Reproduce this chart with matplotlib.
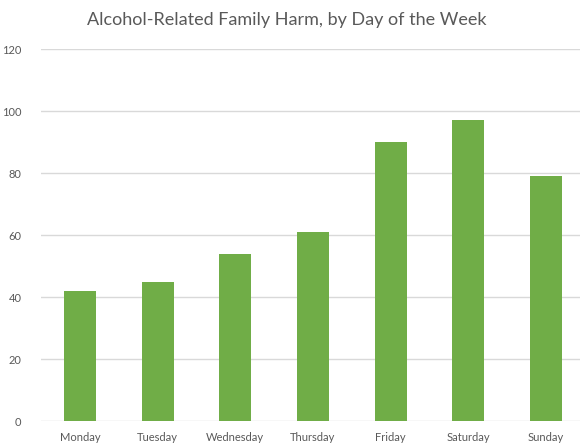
import matplotlib
matplotlib.use("Agg")
from matplotlib import pyplot as plt

# Family harm incidents by day of week
days = ['Monday', 'Tuesday', 'Wednesday', 'Thursday', 'Friday', 'Saturday', 'Sunday']
incidents = [42, 45, 54, 61, 90, 97, 79]
yticks = [0, 20, 40, 60, 80, 100, 120]

plt.rcParams['font.family'] = ['Lato', 'DejaVu Sans']

fig = plt.figure(figsize=(5.8, 4.45), dpi=100)
ax = fig.add_axes([41 / 580, 24 / 445, 544 / 580, 372 / 445])

ax.bar(range(len(days)), incidents, width=0.41, color='#70AD47', zorder=3)

ax.set_xlim(-0.5, len(days) - 0.5)
ax.set_ylim(0, 120)
ax.set_yticks(yticks)
ax.set_xticks(range(len(days)))
ax.set_xticklabels(days)
ax.grid(axis='y', color='#D9D9D9', linewidth=1, zorder=0)
for side in ['top', 'right', 'left', 'bottom']:
    ax.spines[side].set_visible(False)
ax.tick_params(axis='both', length=0, labelsize=8, labelcolor='#595959')
ax.tick_params(axis='y', pad=14)
ax.tick_params(axis='x', pad=8)

fig.text(0.495, 0.955, 'Alcohol-Related Family Harm, by Day of the Week',
         ha='center', va='center', fontsize=13, color='#595959')

fig.savefig('out.png', dpi=100)
